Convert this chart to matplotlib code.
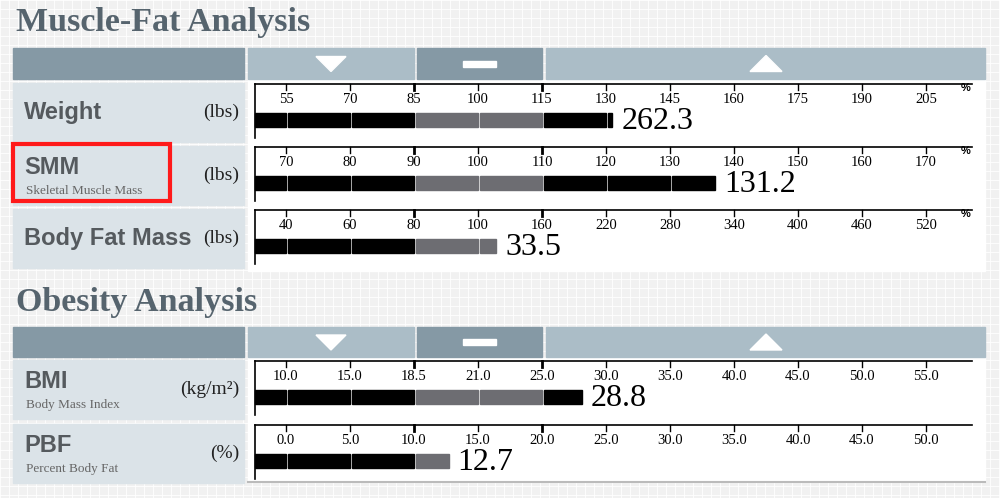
import numpy as np
import matplotlib
matplotlib.use("Agg")
import matplotlib.pyplot as plt
from matplotlib.patches import Rectangle, Polygon

# ---- data ----
mf_labels = ["Weight", "SMM", "Body Fat Mass"]
mf_sub = ["", "Skeletal Muscle Mass", ""]
mf_units = ["(lbs)", "(lbs)", "(lbs)"]
mf_ticks = [
    ["55", "70", "85", "100", "115", "130", "145", "160", "175", "190", "205"],
    ["70", "80", "90", "100", "110", "120", "130", "140", "150", "160", "170"],
    ["40", "60", "80", "100", "160", "220", "280", "340", "400", "460", "520"],
]
mf_tickvals = [
    [55, 70, 85, 100, 115, 130, 145, 160, 175, 190, 205],
    [70, 80, 90, 100, 110, 120, 130, 140, 150, 160, 170],
    [40, 60, 80, 100, 160, 220, 280, 340, 400, 460, 520],
]
mf_bar = [131.5, 137.0, 117.0]          # bar end on row scale (%)
mf_values = ["262.3", "131.2", "33.5"]

ob_labels = ["BMI", "PBF"]
ob_sub = ["Body Mass Index", "Percent Body Fat"]
ob_units = ["(kg/m²)", "(%)"]
ob_ticks = [
    ["10.0", "15.0", "18.5", "21.0", "25.0", "30.0", "35.0", "40.0", "45.0", "50.0", "55.0"],
    ["0.0", "5.0", "10.0", "15.0", "20.0", "25.0", "30.0", "35.0", "40.0", "45.0", "50.0"],
]
ob_tickvals = [
    [10, 15, 18.5, 21, 25, 30, 35, 40, 45, 50, 55],
    [0, 5, 10, 15, 20, 25, 30, 35, 40, 45, 50],
]
ob_bar = [28.1, 12.7]
ob_values = ["28.8", "12.7"]

# ---- drawing ----
W, H = 1000, 498
fig = plt.figure(figsize=(10, 4.98), dpi=100)
ax = fig.add_axes([0, 0, 1, 1])
ax.set_xlim(0, W); ax.set_ylim(H, 0); ax.axis("off")
fig.patch.set_facecolor("#f1f1f1")
for g in np.arange(0, W, 9):
    ax.axvline(g, color="white", lw=0.6, zorder=0)
for g in np.arange(0, H, 9):
    ax.axhline(g, color="white", lw=0.6, zorder=0)

DARK = "#8599a5"; LIGHT = "#abbdc7"; LBL = "#dbe3e8"
TXT = "#555a5e"; TITLE = "#56646e"
tick_x0, tick_dx = 286, 64
x_axis0, x_axis1 = 255, 972
sans = ["Liberation Sans", "DejaVu Sans"]
serif = ["Liberation Serif", "DejaVu Serif"]

def header(y0, h):
    ax.add_patch(Rectangle((13, y0), 231, h, color=DARK, zorder=1))
    ax.add_patch(Rectangle((248, y0), 166, h, color=LIGHT, zorder=1))
    ax.add_patch(Rectangle((417, y0), 125, h, color=DARK, zorder=1))
    ax.add_patch(Rectangle((546, y0), 439, h, color=LIGHT, zorder=1))
    cy = y0 + h / 2
    ax.add_patch(Polygon([(316, cy - 7), (346, cy - 7), (331, cy + 8)], color="white", zorder=2))
    ax.add_patch(Rectangle((463, cy - 3), 33, 6, color="white", zorder=2))
    ax.add_patch(Polygon([(750, cy + 8), (782, cy + 8), (766, cy - 8)], color="white", zorder=2))

def row(y0, h, label, sub, unit, ticks, tvals, bar, val, pct):
    ax.add_patch(Rectangle((13, y0), 231, h, color=LBL, zorder=1))
    if sub:
        ax.text(24, y0 + h * 0.36, label, fontsize=17, fontweight="bold", color=TXT,
                family=sans, va="center", zorder=3)
        ax.text(26, y0 + h * 0.76, sub, fontsize=9.5, color="#666", family=serif,
                va="center", zorder=3)
    else:
        ax.text(24, y0 + h * 0.5, label, fontsize=17, fontweight="bold", color=TXT,
                family=sans, va="center", zorder=3)
    ax.text(239, y0 + h * 0.5, unit, fontsize=14, color="#222", family=serif,
            va="center", ha="right", zorder=3)
    ya = y0 + 1
    ax.plot([x_axis0, x_axis1], [ya, ya], color="black", lw=1.2, zorder=3)
    ax.plot([x_axis0, x_axis0], [ya, y0 + h - 4], color="black", lw=1.2, zorder=3)
    xs = [tick_x0 + tick_dx * i for i in range(len(ticks))]
    for i, (x, t) in enumerate(zip(xs, ticks)):
        lw = 2 if i in (2, 4) else 1
        ax.plot([x, x], [ya, ya + 6], color="black", lw=lw, zorder=3)
        ax.text(x, ya + 15, t, fontsize=10.5, family=serif, ha="center", va="center", zorder=3)
    if pct:
        ax.text(966, ya + 4, "%", fontsize=8, fontweight="bold", family=sans,
                ha="center", va="center", zorder=3)
    xend = np.interp(bar, tvals, xs)
    by = y0 + 30; bh = 14
    edges = [x_axis0] + xs
    for a, b in zip(edges[:-1], edges[1:]):
        if a >= xend:
            break
        b = min(b, xend)
        off = 1.5 if a > x_axis0 else 0
        col = "#6d6d72" if 414 <= a < 542 else "black"
        ax.add_patch(Rectangle((a + off, by), b - a - off, bh, color=col, zorder=3))
    ax.text(xend + 9, by + bh / 2 + 1, val, fontsize=23, family=serif, ha="left",
            va="center", zorder=3)

ax.text(16, 22, "Muscle-Fat Analysis", fontsize=24.5, fontweight="bold", family=serif,
        color=TITLE, va="center")
ax.add_patch(Rectangle((248, 80), 737, 191, color="white", zorder=0.5))
header(48, 31)
for i, y0 in enumerate([83, 146, 209]):
    row(y0, 59, mf_labels[i], mf_sub[i], mf_units[i], mf_ticks[i], mf_tickvals[i],
        mf_bar[i], mf_values[i], True)
ax.add_patch(Rectangle((13, 144), 157, 57, fill=False, edgecolor="#ff1a1a", lw=3, zorder=4))

ax.text(16, 302, "Obesity Analysis", fontsize=24.5, fontweight="bold", family=serif,
        color=TITLE, va="center")
ax.add_patch(Rectangle((248, 358), 737, 124, color="white", zorder=0.5))
header(327, 30)
for i, y0 in enumerate([360, 424]):
    row(y0, 59, ob_labels[i], ob_sub[i], ob_units[i], ob_ticks[i], ob_tickvals[i],
        ob_bar[i], ob_values[i], False)
ax.plot([248, 985], [482, 482], color="#bbbbbb", lw=1.5, zorder=2)

fig.savefig("out.png", dpi=100, facecolor=fig.get_facecolor())
